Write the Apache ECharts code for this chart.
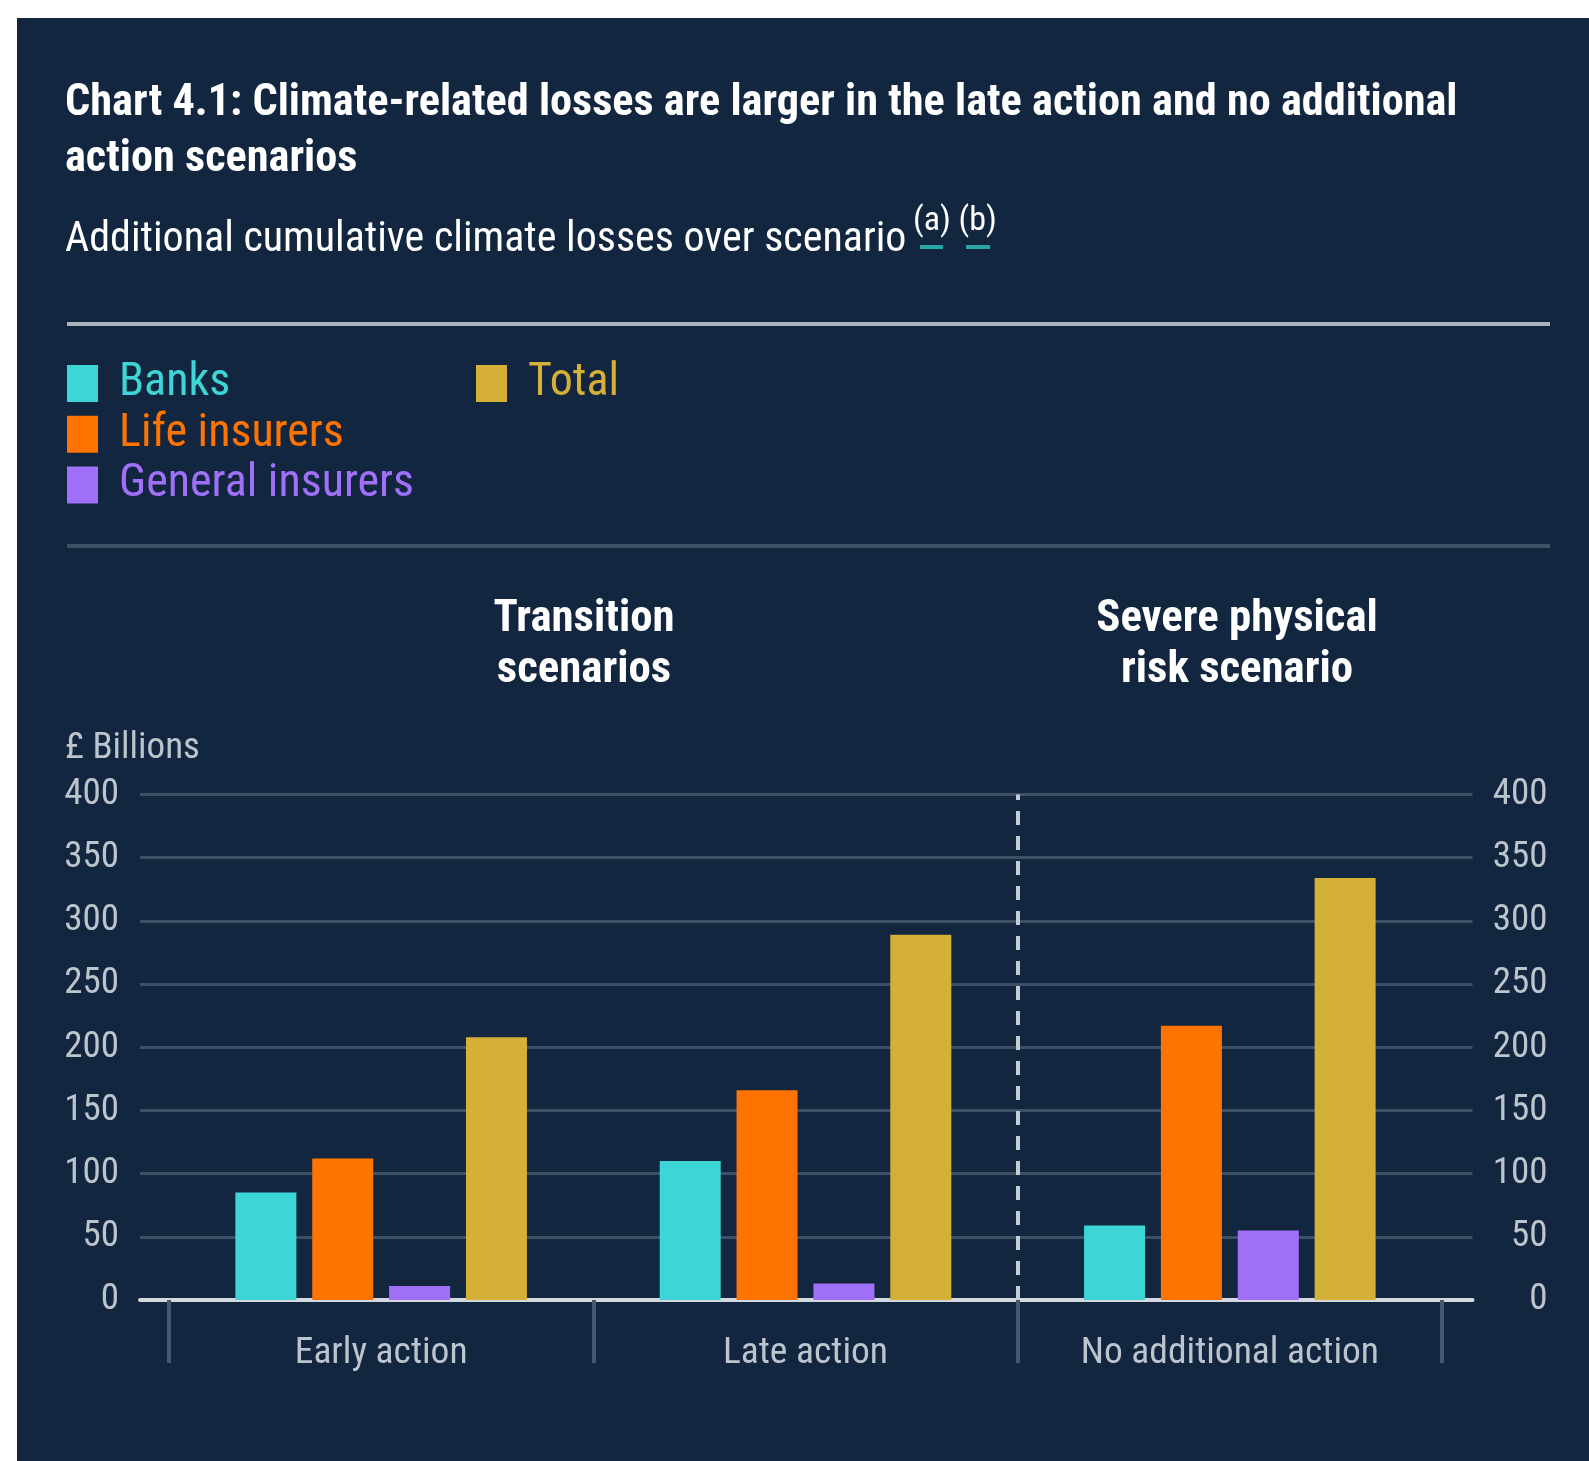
<!DOCTYPE html>
<html>
<head>
<meta charset="utf-8">
<title>Chart 4.1: Climate-related losses</title>
<script src="https://cdn.jsdelivr.net/npm/echarts@6/dist/echarts.min.js"></script>
<style>
  html, body { margin: 0; padding: 0; background: #ffffff; }
  #panel { position: absolute; left: 17px; top: 18px; right: 0; bottom: 0; background: #13263f; }
  #chart { position: absolute; left: 0; top: 0; width: 1589px; height: 1461px; }
</style>
</head>
<body>
<div id="panel"></div>
<div id="chart"></div>
<script>
// values, £ billions
var categories = ['Early action', 'Late action', 'No additional action'];
var banks = [85, 110, 59];
var lifeInsurers = [112, 166, 217];
var generalInsurers = [11, 13, 55];
var total = [208, 289, 334];
var yTicks = [0, 50, 100, 150, 200, 250, 300, 350, 400];

(function() {
  var narrow = "'Roboto Condensed', Roboto, sans-serif";
  var cyan = '#3dd6d6';
  var orange = '#ff7300';
  var purple = '#a070f8';
  var gold = '#d4b038';
  var grey = '#bcc4cd';
  var gridCol = '#3e5066';

  var yMin = yTicks[0];
  var yMax = yTicks[yTicks.length - 1];
  var yStep = yTicks[1] - yTicks[0];

  var chart = echarts.init(document.getElementById('chart'));

  function txt(text, x, y, size, weight, color, align) {
    return {
      type: 'text', x: x, y: y, silent: true,
      style: {
        text: text, fill: color, fontSize: size, fontWeight: weight,
        fontFamily: narrow, textAlign: align || 'left', textVerticalAlign: 'middle',
        lineHeight: 51
      }
    };
  }

  function bar(name, data, color) {
    return {
      name: name, type: 'bar', xAxisIndex: 1, yAxisIndex: 2,
      data: data, barWidth: 61, barGap: '26%',
      itemStyle: { color: color }
    };
  }

  function legendBlock(left, items) {
    return {
      left: left, top: 360.5, padding: 0, orient: 'vertical', icon: 'rect',
      itemWidth: 31, itemHeight: 37, itemGap: 4.7, selectedMode: false,
      textStyle: { fontSize: 46, lineHeight: 46, fontFamily: narrow, padding: [0, 0, 0, 16] },
      data: items
    };
  }

  chart.setOption({
    animation: false,
    backgroundColor: 'transparent',
    graphic: [
      txt('Chart 4.1: Climate-related losses are larger in the late action and no additional', 65, 104, 44.3, 'bold', '#ffffff'),
      txt('action scenarios', 65, 159.5, 44.3, 'bold', '#ffffff'),
      txt('Additional cumulative climate losses over scenario', 65, 240, 42, 'normal', '#ffffff'),
      txt('(a) (b)', 913, 221, 34, 'normal', '#ffffff'),
      { type: 'rect', silent: true, shape: { x: 920, y: 245, width: 23, height: 4 }, style: { fill: '#27a6a6' } },
      { type: 'rect', silent: true, shape: { x: 966, y: 245, width: 24, height: 4 }, style: { fill: '#27a6a6' } },
      { type: 'line', silent: true, shape: { x1: 67, y1: 324, x2: 1550, y2: 324 }, style: { stroke: '#aab2bb', lineWidth: 4 } },
      { type: 'line', silent: true, shape: { x1: 67, y1: 546, x2: 1550, y2: 546 }, style: { stroke: gridCol, lineWidth: 4 } },
      txt('Transition\nscenarios', 584, 645, 44.8, 'bold', '#ffffff', 'center'),
      txt('Severe physical\nrisk scenario', 1237, 645, 44.8, 'bold', '#ffffff', 'center'),
      txt('£ Billions', 65, 749, 37, 'normal', grey)
    ],
    legend: [
      legendBlock(67, [
        { name: 'Banks', textStyle: { color: cyan } },
        { name: 'Life insurers', textStyle: { color: orange } },
        { name: 'General insurers', textStyle: { color: purple } }
      ]),
      legendBlock(476, [{ name: 'Total', textStyle: { color: gold } }])
    ],
    grid: [
      { left: 140, right: 116.5, top: 794.5, bottom: 161 },
      { left: 169, right: 147, top: 794.5, bottom: 161 }
    ],
    xAxis: [
      {
        gridIndex: 0, type: 'value', min: 0, max: 1,
        axisLine: { show: true, lineStyle: { color: '#d2d8de', width: 4 } },
        axisTick: { show: false }, axisLabel: { show: false }, splitLine: { show: false }
      },
      {
        gridIndex: 1, type: 'category', data: categories,
        axisLine: { show: false },
        axisTick: { show: true, length: 63, lineStyle: { color: '#46586e', width: 4 } },
        axisLabel: { interval: 0, margin: 35, fontSize: 37.5, fontFamily: narrow, color: grey }
      },
      { gridIndex: 1, type: 'value', min: 0, max: 3, show: false }
    ],
    yAxis: [
      {
        gridIndex: 0, type: 'value', position: 'left', min: yMin, max: yMax, interval: yStep,
        axisLine: { show: false }, axisTick: { show: false },
        axisLabel: { margin: 21, fontSize: 37, fontFamily: narrow, color: grey },
        splitLine: { show: true, lineStyle: { color: gridCol, width: 3 } }
      },
      {
        gridIndex: 0, type: 'value', position: 'right', min: yMin, max: yMax, interval: yStep,
        axisLine: { show: false }, axisTick: { show: false },
        axisLabel: { margin: 75, align: 'right', fontSize: 37, fontFamily: narrow, color: grey },
        splitLine: { show: false }
      },
      { gridIndex: 1, type: 'value', min: yMin, max: yMax, interval: yStep, show: false }
    ],
    series: [
      bar('Banks', banks, cyan),
      bar('Life insurers', lifeInsurers, orange),
      bar('General insurers', generalInsurers, purple),
      bar('Total', total, gold),
      {
        // dashed divider between transition and physical-risk scenarios
        type: 'line', xAxisIndex: 2, yAxisIndex: 2, data: [],
        markLine: {
          silent: true, symbol: ['none', 'none'], label: { show: false },
          lineStyle: { color: '#c4ccd4', type: [14, 11], width: 4 },
          data: [{ xAxis: 2 }]
        }
      }
    ]
  });
})();
</script>
</body>
</html>
